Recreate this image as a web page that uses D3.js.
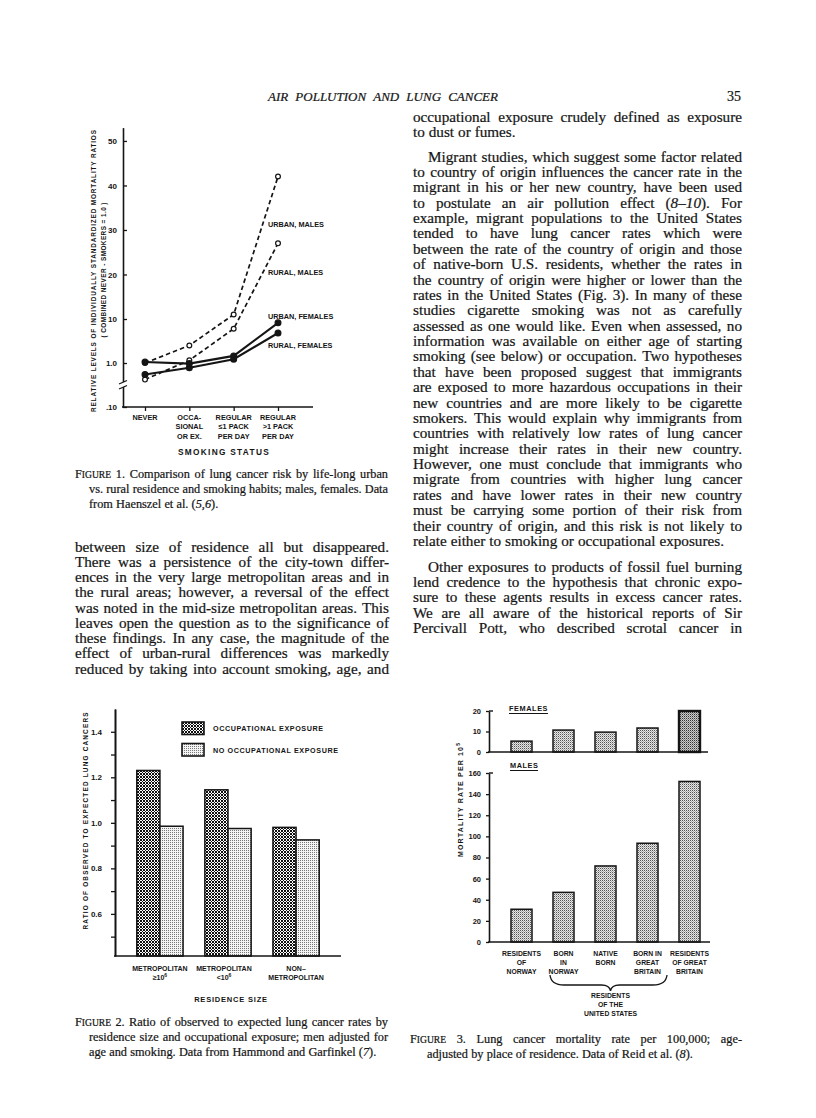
<!DOCTYPE html>
<html><head><meta charset="utf-8">
<script src="https://cdn.jsdelivr.net/npm/d3@7"></script>
<style>
body{margin:0;background:#fff;}
svg{display:block;}
</style></head><body>
<svg id="page" width="816" height="1118"></svg>
<script>
// ---------------- DATA ----------------
// Figure 1
const smokingCategories = ["NEVER", "OCCASIONAL OR EX.", "REGULAR ≤1 PACK PER DAY", "REGULAR >1 PACK PER DAY"];
const smokingLabelLines = [["NEVER"], ["OCCA-", "SIONAL", "OR EX."], ["REGULAR", "≤1 PACK", "PER DAY"], ["REGULAR", ">1 PACK", "PER DAY"]];
const urbanMales = [1.0, 2.5, 11, 42];
const ruralMales = [0.42, 1.15, 6.0, 27];
const urbanFemales = [1.05, 0.97, 1.45, 8.2];
const ruralFemales = [0.55, 0.78, 1.22, 4.8];
const fig1LogTicks = [0.1, 1, 10];
const fig1LogTickLabels = [".10", "1.0", "10"];
const fig1LinTicks = [20, 30, 40, 50];

// Figure 2
const residenceSizes = ["METROPOLITAN ≥10^6", "METROPOLITAN <10^6", "NON-METROPOLITAN"];
const residenceLabelLines = [["METROPOLITAN", "≥10^6^"], ["METROPOLITAN", "<10^6^"], ["NON–", "METROPOLITAN"]];
const exposureGroups = ["OCCUPATIONAL EXPOSURE", "NO OCCUPATIONAL EXPOSURE"];
const occupationalExposure = [1.23, 1.145, 0.98];
const noOccupationalExposure = [0.985, 0.975, 0.925];
const fig2Ticks = [0.6, 0.8, 1.0, 1.2, 1.4];
const fig2MinorTicks = [0.5, 0.7, 0.9, 1.1, 1.3];

// Figure 3
const residencePlaces = ["Residents of Norway", "Born in Norway", "Native born", "Born in Great Britain", "Residents of Great Britain"];
const placeLabelLines = [["RESIDENTS", "OF", "NORWAY"], ["BORN", "IN", "NORWAY"], ["NATIVE", "BORN"], ["BORN IN", "GREAT", "BRITAIN"], ["RESIDENTS", "OF GREAT", "BRITAIN"]];
const femaleRates = [5.3, 10.7, 9.7, 11.7, 20];
const maleRates = [31, 47, 72, 93.5, 152];
const femaleTicks = [0, 10, 20];
const maleTicks = [0, 20, 40, 60, 80, 100, 120, 140, 160];

// Page text
const headerTitle = "AIR POLLUTION AND LUNG CANCER";
const pageNumber = "35";
const rightParagraphs = [
  {indent: false, lines: [
    "occupational exposure crudely defined as exposure",
    "to dust or fumes."]},
  {indent: true, lines: [
    "Migrant studies, which suggest some factor related",
    "to country of origin influences the cancer rate in the",
    "migrant in his or her new country, have been used",
    "to postulate an air pollution effect (*8–10*). For",
    "example, migrant populations to the United States",
    "tended to have lung cancer rates which were",
    "between the rate of the country of origin and those",
    "of native-born U.S. residents, whether the rates in",
    "the country of origin were higher or lower than the",
    "rates in the United States (Fig. 3). In many of these",
    "studies cigarette smoking was not as carefully",
    "assessed as one would like. Even when assessed, no",
    "information was available on either age of starting",
    "smoking (see below) or occupation. Two hypotheses",
    "that have been proposed suggest that immigrants",
    "are exposed to more hazardous occupations in their",
    "new countries and are more likely to be cigarette",
    "smokers. This would explain why immigrants from",
    "countries with relatively low rates of lung cancer",
    "might increase their rates in their new country.",
    "However, one must conclude that immigrants who",
    "migrate from countries with higher lung cancer",
    "rates and have lower rates in their new country",
    "must be carrying some portion of their risk from",
    "their country of origin, and this risk is not likely to",
    "relate either to smoking or occupational exposures."]},
  {indent: true, cont: true, lines: [
    "Other exposures to products of fossil fuel burning",
    "lend credence to the hypothesis that chronic expo-",
    "sure to these agents results in excess cancer rates.",
    "We are all aware of the historical reports of Sir",
    "Percivall Pott, who described scrotal cancer in"]}
];
const leftParagraph = [
  "between size of residence all but disappeared.",
  "There was a persistence of the city-town differ-",
  "ences in the very large metropolitan areas and in",
  "the rural areas; however, a reversal of the effect",
  "was noted in the mid-size metropolitan areas. This",
  "leaves open the question as to the significance of",
  "these findings. In any case, the magnitude of the",
  "effect of urban-rural differences was markedly",
  "reduced by taking into account smoking, age, and"];
const caption1 = [
  "F~IGURE~ 1. Comparison of lung cancer risk by life-long urban",
  "vs. rural residence and smoking habits; males, females. Data",
  "from Haenszel et al. (*5,6*)."];
const caption2 = [
  "F~IGURE~ 2. Ratio of observed to expected lung cancer rates by",
  "residence size and occupational exposure; men adjusted for",
  "age and smoking. Data from Hammond and Garfinkel (*7*)."];
const caption3 = [
  "F~IGURE~ 3. Lung cancer mortality rate per 100,000; age-",
  "adjusted by place of residence. Data of Reid et al. (*8*)."];

// ---------------- HELPERS ----------------
const svg = d3.select("#page");
svg.append("rect").attr("width", 816).attr("height", 1118).attr("fill", "#fff");
const INK = "#151515";
const SERIF = "Liberation Serif, Times New Roman, serif";
const SANS = "Liberation Sans, Arial, sans-serif";

function parseRuns(word) {
  const runs = []; const re = /(\*[^*]+\*|~[^~]+~|\^[^^]+\^)/g; let last = 0, m;
  while ((m = re.exec(word))) {
    if (m.index > last) runs.push({t: word.slice(last, m.index)});
    const c = m[0][0], t = m[0].slice(1, -1);
    runs.push(c === "*" ? {t, i: true} : c === "~" ? {t, sc: true} : {t, sup: true});
    last = re.lastIndex;
  }
  if (last < word.length) runs.push({t: word.slice(last)});
  return runs;
}
function fillRuns(t, str, size) {
  let raised = false;
  parseRuns(str).forEach(r => {
    const ts = t.append("tspan").text(r.t);
    if (r.i) ts.attr("font-style", "italic");
    if (r.sc) ts.attr("font-size", size * 0.78);
    if (r.sup) { ts.attr("font-size", size * 0.72).attr("dy", -size * 0.42); raised = true; }
    else if (raised) { ts.attr("dy", size * 0.42); raised = false; }
  });
}
// justified serif text line
function textLine(g, str, x, y, width, justify, size, italic) {
  const words = str.split(/ +/).filter(w => w.length);
  const nodes = words.map(w => {
    const t = g.append("text").attr("y", y).attr("font-family", SERIF)
      .attr("font-size", size).attr("fill", INK)
      .attr("stroke", INK).attr("stroke-width", 0.22);
    if (italic) t.attr("font-style", "italic");
    fillRuns(t, w, size);
    return t;
  });
  const widths = nodes.map(n => n.node().getComputedTextLength());
  const sum = d3.sum(widths);
  let gap = size * 0.26;
  if (justify && words.length > 1) gap = Math.max(1.5, (width - sum) / (words.length - 1));
  let cx = x;
  nodes.forEach((n, i) => { n.attr("x", cx); cx += widths[i] + gap; });
}
// chart label (bold sans)
function label(g, str, x, y, o = {}) {
  const size = o.size || 7.5;
  const t = g.append("text").attr("x", x).attr("y", y)
    .attr("font-family", SANS).attr("font-weight", "bold")
    .attr("font-size", size).attr("text-anchor", o.anchor || "middle").attr("fill", INK);
  if (o.ls) t.attr("letter-spacing", o.ls);
  if (o.rotate) t.attr("transform", `rotate(${o.rotate},${x},${y})`);
  if (o.len) t.attr("textLength", o.len).attr("lengthAdjust", "spacing");
  fillRuns(t, str, size);
  return t;
}
function styleAxis(g, size) {
  g.attr("font-family", SANS).attr("font-weight", "bold").attr("font-size", size);
  g.selectAll("text").attr("fill", INK);
  g.selectAll("line").attr("stroke", INK).attr("stroke-width", 1.3);
  g.selectAll("path.domain").attr("stroke", INK).attr("stroke-width", 1.6);
}

// patterns
const defs = svg.append("defs");
const pHeavy = defs.append("pattern").attr("id", "heavy").attr("patternUnits", "userSpaceOnUse").attr("width", 3).attr("height", 3);
pHeavy.append("rect").attr("width", 3).attr("height", 3).attr("fill", "#fff");
[[0,0],[2,0],[1,1],[0,2],[2,2]].forEach(p => pHeavy.append("rect").attr("x", p[0]).attr("y", p[1]).attr("width", 1).attr("height", 1).attr("fill", "#111"));
const pLight = defs.append("pattern").attr("id", "light").attr("patternUnits", "userSpaceOnUse").attr("width", 2).attr("height", 2);
pLight.append("rect").attr("width", 2).attr("height", 2).attr("fill", "#f4f4f4");
pLight.append("rect").attr("x", 0).attr("y", 0).attr("width", 1).attr("height", 1).attr("fill", "#777");
const pMed = defs.append("pattern").attr("id", "med").attr("patternUnits", "userSpaceOnUse").attr("width", 2).attr("height", 2);
pMed.append("rect").attr("width", 2).attr("height", 2).attr("fill", "#e6e6e6");
pMed.append("rect").attr("x", 0).attr("y", 0).attr("width", 1).attr("height", 1).attr("fill", "#555");
pMed.append("rect").attr("x", 1).attr("y", 1).attr("width", 1).attr("height", 1).attr("fill", "#aaa");
const pDark = defs.append("pattern").attr("id", "dark").attr("patternUnits", "userSpaceOnUse").attr("width", 2).attr("height", 2);
pDark.append("rect").attr("width", 2).attr("height", 2).attr("fill", "#ccc");
pDark.append("rect").attr("x", 0).attr("y", 0).attr("width", 1).attr("height", 1).attr("fill", "#333");
pDark.append("rect").attr("x", 1).attr("y", 1).attr("width", 1).attr("height", 1).attr("fill", "#888");

// ---------------- PAGE TEXT ----------------
const txt = svg.append("g");
textLine(txt, headerTitle, 268, 101, 230, true, 13, true);
txt.append("text").attr("x", 741).attr("y", 101).attr("text-anchor", "end")
  .attr("font-family", SERIF).attr("font-size", 14).attr("fill", INK)
  .attr("stroke", INK).attr("stroke-width", 0.22).text(pageNumber);

const LH = 15.38, BODY = 15.2;
const rightStarts = [117, 157, 567];
rightParagraphs.forEach((p, pi) => {
  p.lines.forEach((ln, li) => {
    const x = (p.indent && li === 0) ? 428 : 413;
    const w = 742 - x;
    const isLast = li === p.lines.length - 1;
    const justify = p.cont ? true : !isLast;
    textLine(txt, ln, x, rightStarts[pi] + li * LH + 4.5, w, justify, BODY);
  });
});
leftParagraph.forEach((ln, li) => {
  textLine(txt, ln, 75, 547 + li * 15.25 + 4.5, 314, true, BODY);
});
function caption(lines, x0, indent, right, y0) {
  lines.forEach((ln, li) => {
    const x = li === 0 ? x0 : x0 + indent;
    textLine(txt, ln, x, y0 + li * 15 + 4, right - x, li < lines.length - 1, 12.3);
  });
}
caption(caption1, 75, 14, 388, 474);
caption(caption2, 75, 14, 388, 1022);
caption(caption3, 410, 17, 742, 1039);

// ---------------- FIGURE 1 ----------------
const f1 = svg.append("g");
const x1 = d3.scalePoint().domain(smokingCategories).range([145, 278]);
const y1log = d3.scaleLog().domain([0.1, 10]).range([407, 319]);
const y1lin = d3.scaleLinear().domain([10, 53]).range([319, 127.6]);
const y1 = v => v <= 10 ? y1log(v) : y1lin(v);

const ax1a = f1.append("g").attr("transform", "translate(123,0)")
  .call(d3.axisLeft(y1log).tickValues(fig1LogTicks).tickFormat((d, i) => fig1LogTickLabels[i]).tickSizeInner(-4).tickSizeOuter(0).tickPadding(6));
const ax1b = f1.append("g").attr("transform", "translate(123,0)")
  .call(d3.axisLeft(y1lin).tickValues(fig1LinTicks).tickFormat(d3.format("d")).tickSizeInner(-4).tickSizeOuter(0).tickPadding(6));
styleAxis(ax1a, 8); styleAxis(ax1b, 8);
const ax1x = f1.append("g").attr("transform", "translate(0,407)")
  .call(d3.axisBottom(x1).tickSize(4).tickFormat(""));
ax1x.select("path.domain").remove();
styleAxis(ax1x, 8);
f1.append("line").attr("x1", 122).attr("x2", 313).attr("y1", 407).attr("y2", 407).attr("stroke", INK).attr("stroke-width", 1.6);
// axis break mark
f1.append("rect").attr("x", 120).attr("y", 382).attr("width", 6).attr("height", 5).attr("fill", "#fff");
f1.append("line").attr("x1", 119).attr("y1", 384).attr("x2", 127).attr("y2", 380.5).attr("stroke", INK).attr("stroke-width", 1.3);
f1.append("line").attr("x1", 119).attr("y1", 389).attr("x2", 127).attr("y2", 385.5).attr("stroke", INK).attr("stroke-width", 1.3);

const line1 = d3.line().x((d, i) => x1(smokingCategories[i])).y(d => y1(d));
const seriesF1 = [
  {vals: ruralMales, dash: true}, {vals: urbanMales, dash: true},
  {vals: ruralFemales, dash: false}, {vals: urbanFemales, dash: false}
];
seriesF1.forEach(s => {
  f1.append("path").datum(s.vals).attr("d", line1).attr("fill", "none")
    .attr("stroke", INK).attr("stroke-width", s.dash ? 1.7 : 2.1)
    .attr("stroke-dasharray", s.dash ? "4.5,3" : null);
});
seriesF1.forEach(s => {
  f1.selectAll(null).data(s.vals).enter().append("circle")
    .attr("cx", (d, i) => x1(smokingCategories[i])).attr("cy", d => y1(d))
    .attr("r", s.dash ? 2.4 : 2.9)
    .attr("fill", s.dash ? "#fff" : INK).attr("stroke", INK).attr("stroke-width", 1.2);
});
label(f1, "URBAN, MALES", 268, 227, {anchor: "start", size: 7.3});
label(f1, "RURAL, MALES", 268, 275, {anchor: "start", size: 7.3});
label(f1, "URBAN, FEMALES", 268, 319, {anchor: "start", size: 7.3});
label(f1, "RURAL, FEMALES", 268, 348, {anchor: "start", size: 7.3});
smokingCategories.forEach((c, i) => {
  smokingLabelLines[i].forEach((ln, k) => label(f1, ln, x1(c), 420 + k * 9.4, {size: 7.3}));
});
label(f1, "SMOKING STATUS", 224, 454.5, {size: 8.3, ls: 1.3});
label(f1, "RELATIVE LEVELS OF INDIVIDUALLY STANDARDIZED MORTALITY RATIOS", 95.5, 271, {size: 6.4, rotate: -90, len: 282});
label(f1, "( COMBINED NEVER - SMOKERS = 1.0 )", 105.5, 270, {size: 6.4, rotate: -90, len: 135});

// ---------------- FIGURE 2 ----------------
const f2 = svg.append("g");
const x2 = d3.scaleBand().domain(residenceSizes).range([115, 341]).paddingInner(0.32).paddingOuter(0.32);
const xs2 = d3.scaleBand().domain(exposureGroups).range([0, x2.bandwidth()]);
const y2 = d3.scaleLinear().domain([0.415, 1.5]).range([956, 709]);
const fills2 = {"OCCUPATIONAL EXPOSURE": "url(#heavy)", "NO OCCUPATIONAL EXPOSURE": "url(#light)"};
const barData2 = [];
residenceSizes.forEach((r, i) => {
  barData2.push({r, g: exposureGroups[0], v: occupationalExposure[i]});
  barData2.push({r, g: exposureGroups[1], v: noOccupationalExposure[i]});
});
f2.selectAll("rect.bar").data(barData2).enter().append("rect").attr("class", "bar")
  .attr("x", d => x2(d.r) + xs2(d.g)).attr("width", xs2.bandwidth())
  .attr("y", d => y2(d.v)).attr("height", d => y2.range()[0] - y2(d.v))
  .attr("fill", d => fills2[d.g]).attr("stroke", INK).attr("stroke-width", 1.5);
const ax2 = f2.append("g").attr("transform", "translate(115,0)")
  .call(d3.axisLeft(y2).tickValues(fig2Ticks).tickFormat(d3.format(".1f")).tickSizeInner(4).tickSizeOuter(0).tickPadding(9));
styleAxis(ax2, 8);
const ax2m = f2.append("g").attr("transform", "translate(115,0)")
  .call(d3.axisLeft(y2).tickValues(fig2MinorTicks).tickFormat("").tickSizeInner(4).tickSizeOuter(0));
styleAxis(ax2m, 8);
f2.append("line").attr("x1", 114).attr("x2", 341).attr("y1", 956).attr("y2", 956).attr("stroke", INK).attr("stroke-width", 1.6);
// legend
exposureGroups.forEach((gname, i) => {
  const yy = 722 + i * 21.5;
  f2.append("rect").attr("x", 182).attr("y", yy).attr("width", 22).attr("height", 12.5)
    .attr("fill", fills2[gname]).attr("stroke", INK).attr("stroke-width", 1.6);
  label(f2, gname, 213, yy + 9, {anchor: "start", size: 7.2, len: i === 0 ? 110 : 125});
});
residenceSizes.forEach((r, i) => {
  residenceLabelLines[i].forEach((ln, k) => label(f2, ln, x2(r) + x2.bandwidth() / 2 - (i === 1 ? 4 : 0), 970.5 + k * 9.5, {size: 7}));
});
label(f2, "RESIDENCE SIZE", 231, 1002, {size: 7.5, ls: 0.8});
label(f2, "RATIO OF OBSERVED TO EXPECTED LUNG CANCERS", 87.5, 821, {size: 6.4, rotate: -90, len: 217});

// ---------------- FIGURE 3 ----------------
const f3 = svg.append("g");
const x3 = d3.scaleBand().domain(residencePlaces).range([500.5, 710.5]).paddingInner(0.5).paddingOuter(0.25);
const yF = d3.scaleLinear().domain([0, 20]).range([752, 711]);
const yM = d3.scaleLinear().domain([0, 160]).range([942, 773]);
f3.selectAll("rect.fbar").data(femaleRates).enter().append("rect").attr("class", "fbar")
  .attr("x", (d, i) => x3(residencePlaces[i])).attr("width", x3.bandwidth())
  .attr("y", d => yF(d)).attr("height", d => yF(0) - yF(d))
  .attr("fill", (d, i) => i === 4 ? "url(#dark)" : "url(#med)").attr("stroke", INK)
  .attr("stroke-width", (d, i) => i === 4 ? 2.4 : 1.5);
f3.selectAll("rect.mbar").data(maleRates).enter().append("rect").attr("class", "mbar")
  .attr("x", (d, i) => x3(residencePlaces[i])).attr("width", x3.bandwidth())
  .attr("y", d => yM(d)).attr("height", d => yM(0) - yM(d))
  .attr("fill", "url(#med)").attr("stroke", INK).attr("stroke-width", 1.5);
const ax3f = f3.append("g").attr("transform", "translate(489,0)")
  .call(d3.axisLeft(yF).tickValues(femaleTicks).tickFormat(d3.format("d")).tickSizeInner(3).tickSizeOuter(0).tickPadding(5));
styleAxis(ax3f, 7.5);
const ax3m = f3.append("g").attr("transform", "translate(489,0)")
  .call(d3.axisLeft(yM).tickValues(maleTicks).tickFormat(d3.format("d")).tickSizeInner(3).tickSizeOuter(0).tickPadding(5));
styleAxis(ax3m, 7.5);
f3.append("line").attr("x1", 489).attr("x2", 493).attr("y1", yF(20)).attr("y2", yF(20)).attr("stroke", INK).attr("stroke-width", 1.4);
f3.append("line").attr("x1", 489).attr("x2", 493).attr("y1", yM(160)).attr("y2", yM(160)).attr("stroke", INK).attr("stroke-width", 1.4);
f3.append("line").attr("x1", 488).attr("x2", 708).attr("y1", yF(0)).attr("y2", yF(0)).attr("stroke", INK).attr("stroke-width", 1.7);
f3.append("line").attr("x1", 488).attr("x2", 710).attr("y1", yM(0)).attr("y2", yM(0)).attr("stroke", INK).attr("stroke-width", 1.7);
label(f3, "FEMALES", 509, 711, {anchor: "start", size: 7.3, ls: 0.6});
f3.append("line").attr("x1", 509).attr("x2", 548).attr("y1", 713.5).attr("y2", 713.5).attr("stroke", INK).attr("stroke-width", 1);
label(f3, "MALES", 510, 768, {anchor: "start", size: 7.3, ls: 0.6});
f3.append("line").attr("x1", 510).attr("x2", 538).attr("y1", 770.5).attr("y2", 770.5).attr("stroke", INK).attr("stroke-width", 1);
residencePlaces.forEach((p, i) => {
  placeLabelLines[i].forEach((ln, k) => label(f3, ln, x3(p) + x3.bandwidth() / 2, 955.5 + k * 9, {size: 6.8}));
});
// brace under US residents
const bx0 = x3(residencePlaces[1]) - 3, bx1 = x3(residencePlaces[3]) + x3.bandwidth() + 9;
const bm = (bx0 + bx1) / 2 + 2;
f3.append("path")
  .attr("d", `M${bx0},975 Q${bx0 + 1},985 ${bx0 + 14},985 L${bm - 9},985 Q${bm - 1},985 ${bm},991 Q${bm + 1},985 ${bm + 9},985 L${bx1 - 14},985 Q${bx1 - 1},985 ${bx1},975`)
  .attr("fill", "none").attr("stroke", INK).attr("stroke-width", 1.3);
["RESIDENTS", "OF THE", "UNITED STATES"].forEach((ln, k) => label(f3, ln, bm, 997.5 + k * 9, {size: 6.8}));
label(f3, "MORTALITY RATE PER 10^5^", 462.5, 800, {size: 7, rotate: -90, len: 114});
</script>
</body></html>
